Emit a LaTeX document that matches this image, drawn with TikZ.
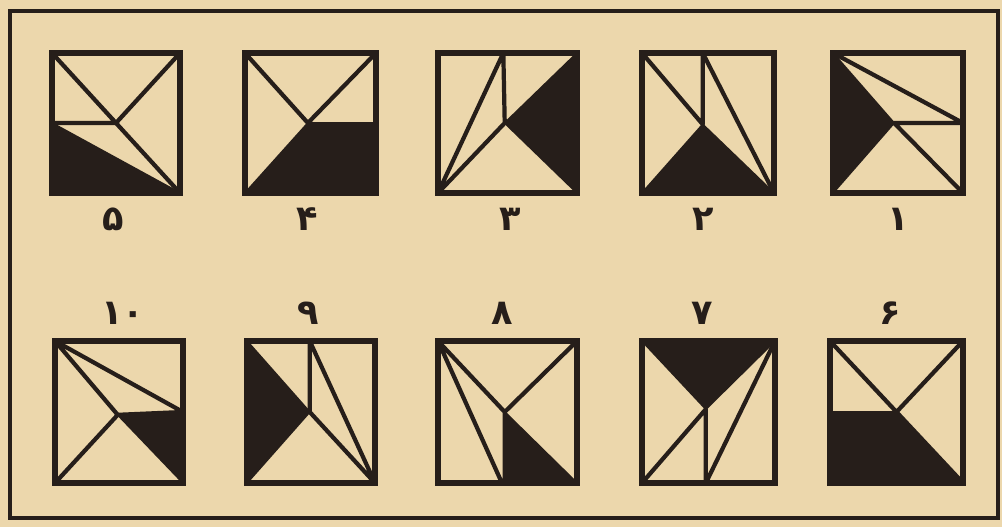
\documentclass[tikz,border=0pt]{standalone}
\usepackage{fontspec}
\usepackage{tikz}
\usetikzlibrary{positioning}
\newfontfamily\persianfont[Script=Arabic]{DejaVu Sans}
\definecolor{sheetpaper}{RGB}{236,215,172}
\definecolor{sheetink}{RGB}{38,30,26}

\tikzset{
  figline/.style={draw=sheetink, line width=2.4pt, line cap=round, line join=round},
  figbox/.style={draw=sheetink, line width=3pt},
  figfill/.style={fill=sheetink, draw=sheetink, line width=1pt, line join=round},
  numlabel/.style={text=sheetink, inner sep=0pt, font=\persianfont\bfseries\fontsize{20}{21}\selectfont}
}

\begin{document}
\begin{tikzpicture}[x=0.02cm, y=0.02cm]
\fill[sheetpaper] (0,0) rectangle (1002,527);
\useasboundingbox (0,0) rectangle (1002,527);
\draw[sheetink, line width=2.2pt] (10,9) rectangle (998,516);

% top row, right to left: 1 ... 5
\begin{scope}[shift={(833,334)}, xscale=130, yscale=140]
  \fill[figfill] (0,1) -- (0.47,0.5) -- (0,0) -- cycle;
  \draw[figline] (0,1) -- (1,0.5) -- (0.47,0.5) -- (1,0);
  \draw[figbox] (0,0) rectangle (1,1);
\end{scope}
\begin{scope}[shift={(642,334)}, xscale=132, yscale=140]
  \fill[figfill] (0,0) -- (0.46,0.49) -- (1,0) -- cycle;
  \draw[figline] (0,1) -- (0.46,0.49) -- (0.46,1) -- (1,0);
  \draw[figbox] (0,0) rectangle (1,1);
\end{scope}
\begin{scope}[shift={(438,334)}, xscale=139, yscale=140]
  \fill[figfill] (1,1) -- (0.48,0.5) -- (1,0) -- cycle;
  \draw[figline] (0.48,0.5) -- (0,0) -- (0.47,1) -- (0.48,0.5);
  \draw[figbox] (0,0) rectangle (1,1);
\end{scope}
\begin{scope}[shift={(245,334)}, xscale=131, yscale=140]
  \fill[figfill] (0,0) -- (0.48,0.5) -- (1,0.5) -- (1,0) -- cycle;
  \draw[figline] (0,1) -- (0.48,0.5) -- (1,1);
  \draw[figbox] (0,0) rectangle (1,1);
\end{scope}
\begin{scope}[shift={(52,334)}, xscale=128, yscale=140]
  \fill[figfill] (0,0.5) -- (1,0) -- (0,0) -- cycle;
  \draw[figline] (0,1) -- (1,0) (1,1) -- (0.5,0.5) -- (0,0.5);
  \draw[figbox] (0,0) rectangle (1,1);
\end{scope}

\node[numlabel] (num1) at (898,308) {۱};
\node[numlabel] (num2) at (703,308) {۲};
\node[numlabel] (num3) at (510,308) {۳};
\node[numlabel] (num4) at (307,308) {۴};
\node[numlabel] (num5) at (113,308) {۵};

% bottom row, right to left: 6 ... 10
\begin{scope}[shift={(830,44)}, xscale=133, yscale=142]
  \fill[figfill] (0,0.5) -- (0.5,0.5) -- (1,0) -- (0,0) -- cycle;
  \draw[figline] (0,1) -- (0.5,0.5) -- (1,1) (0.5,0.5) -- (1,0);
  \draw[figbox] (0,0) rectangle (1,1);
\end{scope}
\begin{scope}[shift={(642,44)}, xscale=133, yscale=142]
  \fill[figfill] (0,1) -- (1,1) -- (0.48,0.52) -- cycle;
  \draw[figline] (0,0) -- (0.48,0.52) -- (0.48,0) -- (1,1);
  \draw[figbox] (0,0) rectangle (1,1);
\end{scope}
\begin{scope}[shift={(438,44)}, xscale=139, yscale=142]
  \fill[figfill] (0.48,0.5) -- (0.48,0) -- (1,0) -- cycle;
  \draw[figline] (1,1) -- (0.48,0.5) -- (0,1) -- (0.46,0) (0.48,0.5) -- (0.48,0);
  \draw[figbox] (0,0) rectangle (1,1);
\end{scope}
\begin{scope}[shift={(247,44)}, xscale=128, yscale=142]
  \fill[figfill] (0,1) -- (0.49,0.5) -- (0,0) -- cycle;
  \draw[figline] (1,0) -- (0.49,0.5) -- (0.49,1) -- (1,0);
  \draw[figbox] (0,0) rectangle (1,1);
\end{scope}
\begin{scope}[shift={(55,44)}, xscale=128, yscale=142]
  \fill[figfill] (0.49,0.48) -- (1,0.5) -- (1,0) -- cycle;
  \draw[figline] (1,0.5) -- (0,1) -- (0.49,0.48) -- (0,0) (0.49,0.48) -- (1,0.5);
  \draw[figbox] (0,0) rectangle (1,1);
\end{scope}

\node[numlabel] (num6) at (890,214) {۶};
\node[numlabel] (num7) at (702,214) {۷};
\node[numlabel] (num8) at (502,214) {۸};
\node[numlabel] (num9) at (308,214) {۹};
\node[numlabel] (num10) at (123,214) {۱۰};
\end{tikzpicture}
\end{document}
